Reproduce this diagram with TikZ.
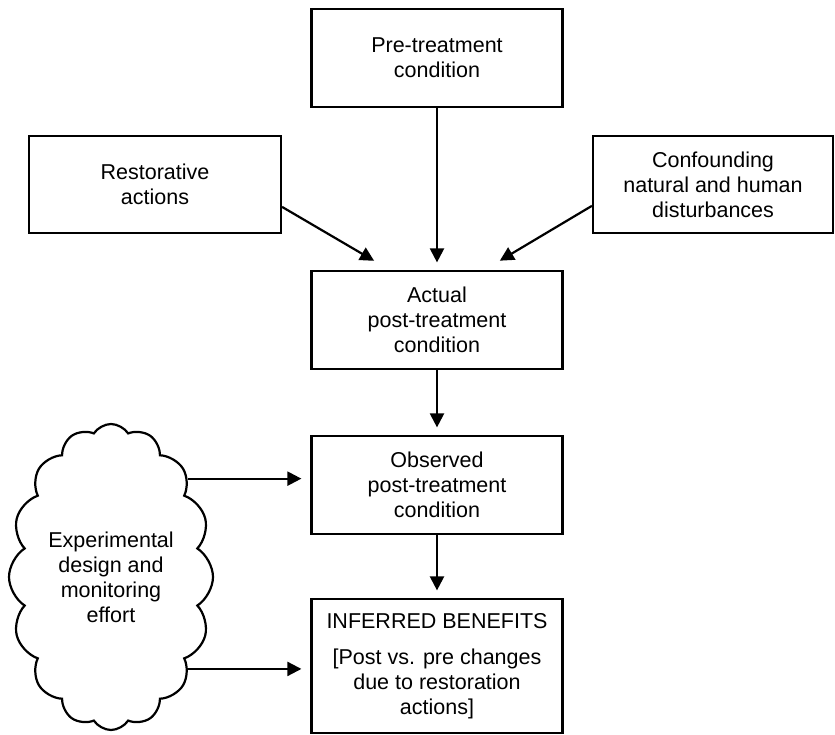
\documentclass[tikz,border=0pt]{standalone}
\usepackage{fontspec}
\setmainfont{Liberation Sans}
\usetikzlibrary{arrows.meta,shapes.symbols,calc}

\begin{document}
\begin{tikzpicture}[x=1pt,y=-1pt,
 every node/.style={font=\fontsize{21.5}{25}\selectfont,align=center,inner sep=0pt},
 box/.style={draw,line width=2.2pt,minimum width=251pt,minimum height=98pt},
 arr/.style={line width=2.2pt,-{Triangle[length=14pt,width=14pt]},shorten >=7.5pt}]
\useasboundingbox (0,0) rectangle (835,735);
\node[box] (pre) at (437,58) {Pre-treatment\\condition};
\node[box,minimum width=252pt,minimum height=97pt] (rest) at (155,184.5) {Restorative\\actions};
\node[box,minimum width=240pt,minimum height=97pt] (conf) at (713,184.5) {Confounding\\natural and human\\disturbances};
\node[box] (act) at (437,320) {Actual\\post-treatment\\condition};
\node[box] (obs) at (437,485) {Observed\\post-treatment\\condition};
\node[box,minimum height=134pt] (inf) at (437,666) {INFERRED BENEFITS\\[11pt]{[}Post vs. pre changes\\due to restoration\\actions]};
\node[cloud,draw,line width=2.2pt,cloud puffs=16,cloud puff arc=115,cloud ignores aspect,
 minimum width=204pt,minimum height=306pt] (cloud) at (111,577) {Experimental\\design and\\monitoring\\effort};
% arrows
\draw[arr] (pre) -- (act);
\draw[arr,shorten >=18pt] (rest.-10) -- ($(act.north west)!0.313!(act.north east)$);
\draw[arr,shorten >=18pt] (conf.190) -- ($(act.north west)!0.687!(act.north east)$);
\draw[arr] (act) -- (obs);
\draw[arr] (obs) -- (inf);
\draw[arr,shorten >=9pt] (cloud.52) -- (cloud.52 -| obs.west);
\draw[arr,shorten >=9pt] (cloud.-50) -- (cloud.-50 -| inf.west);
\end{tikzpicture}
\end{document}
